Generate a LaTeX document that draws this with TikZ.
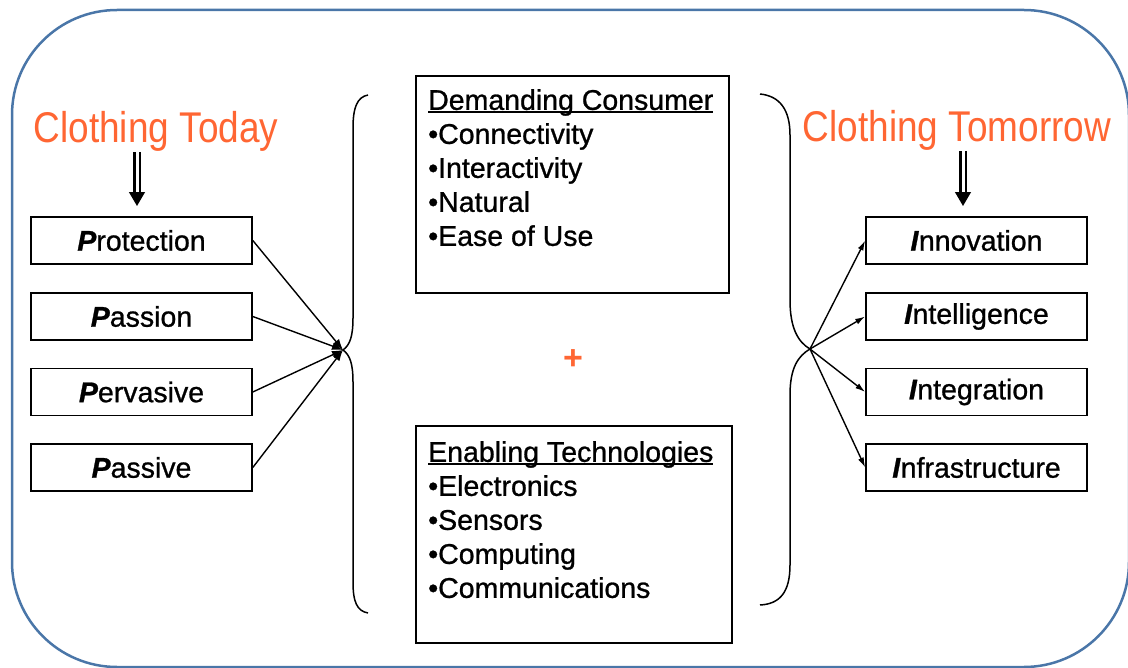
\documentclass[tikz,border=0pt]{standalone}
\usepackage{fontspec}
\usepackage{graphicx}
\setmainfont{Liberation Sans}
\newfontfamily\heavyfam{Liberation Sans}[FakeBold=0.9]
\usetikzlibrary{arrows.meta}
\definecolor{framebl}{RGB}{74,118,168}
\definecolor{orng}{RGB}{255,102,51}
\newcommand\ulhead[1]{\sbox0{#1}\rlap{\rule[-3pt]{\wd0}{1.8pt}}\usebox0}
\newcommand\lead[1]{\textbf{\textit{#1}}}
\tikzset{
  bodyfont/.style={font=\heavyfam\fontsize{28.5}{34}\selectfont},
  titlearrow/.style={line width=8pt,shorten >=10pt,-{Triangle[length=14pt,width=15pt]}},
  titlegap/.style={white,line width=3pt,shorten >=24pt,shorten <=-1pt}
}
\begin{document}
\begin{tikzpicture}[x=1pt,y=-1pt]
  \useasboundingbox (0,0) rectangle (1128,668);
  \draw[framebl,line width=2.5pt,rounded corners=105pt] (12,10) rectangle (1129,667);
  % titles
  \begin{scope}[every node/.style={text=orng,font=\fontsize{43}{50}\selectfont,anchor=base}]
    \node (today) at (156,143) {\scalebox{0.86}[1]{Clothing Today}};
    \node (tomorrow) at (957,142) {\scalebox{0.86}[1]{Clothing Tomorrow}};
  \end{scope}
  % small boxes
  \begin{scope}[every node/.style={draw,line width=1.6pt,minimum width=221pt,minimum height=47pt,inner sep=0pt,bodyfont}]
    \node (p1) at (141.5,240.5) {\lead{P}rotection};
    \node (p2) at (141.5,316.5) {\lead{P}assion};
    \node (p3) at (141.5,392) {\lead{P}ervasive};
    \node (p4) at (141.5,467.5) {\lead{P}assive};
    \node (i1) at (976.5,240.5) {\lead{I}nnovation};
    \node (i2) at (976.5,316.5) {\lead{I}ntelligence};
    \node (i3) at (976.5,392) {\lead{I}ntegration};
    \node (i4) at (976.5,467.5) {\lead{I}nfrastructure};
  \end{scope}
  % middle panels
  \node[draw,line width=1.6pt,minimum width=313pt,minimum height=217pt,anchor=north west,inner sep=0pt] (dc) at (415,75) {};
  \node[anchor=north west,align=left,inner sep=0pt,bodyfont] (dctext) at ([xshift=13pt,yshift=-14pt]dc.north west)
    {\ulhead{Demanding Consumer}\\•Connectivity\\•Interactivity\\•Natural\\•Ease of Use};
  \node[draw,line width=1.6pt,minimum width=316pt,minimum height=217pt,anchor=north west,inner sep=0pt] (et) at (415,425) {};
  \node[anchor=north west,align=left,inner sep=0pt,bodyfont] (ettext) at ([xshift=13pt,yshift=-16pt]et.north west)
    {\ulhead{Enabling Technologies}\\•Electronics\\•Sensors\\•Computing\\•Communications};
  \node[text=orng,font=\bfseries\fontsize{34}{40}\selectfont] (plus) at (573,360) {+};
  % braces
  \coordinate (lj) at (343,350);
  \coordinate (rj) at (810,349);
  \draw[line width=1.5pt] (368,95) .. controls (357,97) and (353,108) .. (353,128) -- (353,318)
    .. controls (353,336) and (350,345) .. (lj) .. controls (350,355) and (353,364) .. (353,382)
    -- (353,582) .. controls (353,602) and (357,611) .. (368,613);
  \draw[line width=1.5pt] (760,94) .. controls (780,96) and (790,110) .. (790,135) -- (790,300)
    .. controls (790,328) and (798,342) .. (rj) .. controls (798,356) and (790,368) .. (790,395)
    -- (790,565) .. controls (790,592) and (780,604) .. (760,605);
  % title arrows
  \coordinate (ta) at (137,152);
  \coordinate (tb) at (963,151);
  \draw[titlearrow] (ta) -- (ta |- p1.north);
  \draw[titlegap] (ta) -- (ta |- p1.north);
  \draw[titlearrow] (tb) -- (tb |- i1.north);
  \draw[titlegap] (tb) -- (tb |- i1.north);
  % connectors
  \begin{scope}[every edge/.style={draw,line width=1.4pt,-{Latex[length=11pt,width=8pt]}}]
    \path (p1.east) edge (lj);
    \path (p2.east) edge (lj);
    \path (p3.east) edge (lj);
    \path (p4.east) edge (lj);
  \end{scope}
  \begin{scope}[every edge/.style={draw,line width=1.4pt,-{Latex[length=10pt,width=6pt]}}]
    \path (rj) edge (i1.west);
    \path (rj) edge (i2.west);
    \path (rj) edge (i3.west);
    \path (rj) edge (i4.west);
  \end{scope}
\end{tikzpicture}
\end{document}
